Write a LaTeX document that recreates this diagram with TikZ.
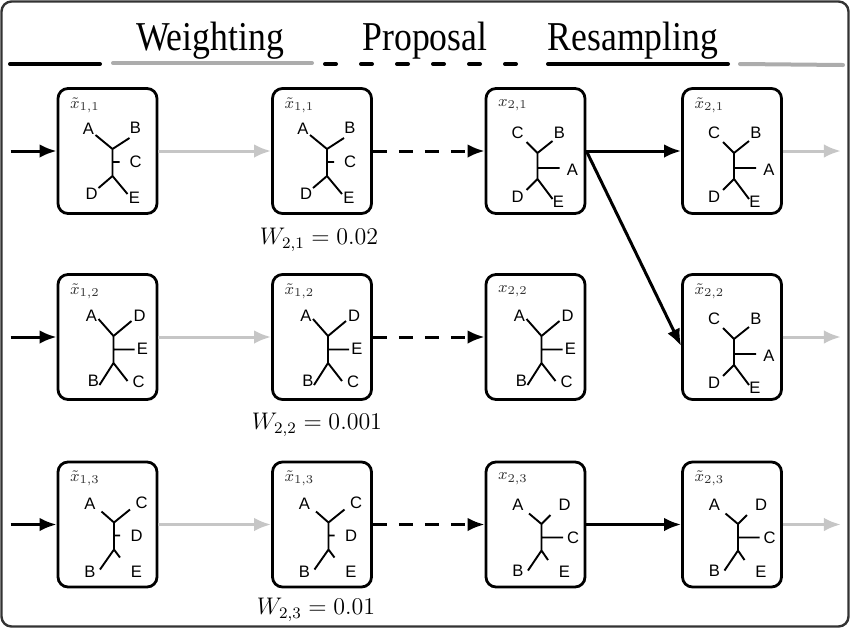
\documentclass[tikz,border=0pt]{standalone}
\usepackage{fontspec}
\usepackage{graphicx}
\setmainfont{Liberation Serif}
\newfontfamily\treefont{Liberation Sans}
\usetikzlibrary{arrows.meta}
\newcommand{\narrowtitle}[1]{\scalebox{0.87}[1]{#1}}
\tikzset{
  particle/.style={draw, rounded corners=5pt, line width=1.4pt, minimum width=49.5pt, minimum height=62.5pt, inner sep=0pt},
  plab/.style={anchor=west, inner sep=0pt, font=\fontsize{8}{9}\selectfont, text=black!80},
  tlab/.style={inner sep=0pt, font=\treefont\fontsize{8.3}{9}\selectfont},
  treeline/.style={line width=0.95pt},
  title/.style={anchor=base, inner sep=0pt, font=\fontsize{20.5}{22}\selectfont},
  wt/.style={inner sep=0pt, font=\fontsize{12}{14}\selectfont},
  hdr/.style={line width=2pt, line cap=round},
  blackarrow/.style={line width=1.5pt, -{Latex[length=8.5pt,width=6.8pt]}},
  grayarrow/.style={blackarrow, draw=gray!45},
  dasharrow/.style={blackarrow, dash pattern=on 7pt off 6pt},
  frame/.style={draw=black!80, line width=1.2pt, rounded corners=5pt},
  treeTone/.pic={
    \coordinate (-n1) at (5,-2); \coordinate (-n2) at (5,25); \coordinate (-m) at (5,11);
    \coordinate (-a) at (-12,-16); \coordinate (-b) at (22,-13);
    \coordinate (-c) at (12,11);
    \coordinate (-d) at (-9,37); \coordinate (-e) at (20,43);
    \draw[treeline] (-a) -- (-n1) -- (-b) (-n1) -- (-n2) (-m) -- (-c) (-d) -- (-n2) -- (-e);
    \node[tlab] (-A) at (-19,-22) {A};
    \node[tlab] (-B) at (28,-23) {B};
    \node[tlab] (-C) at (28,11) {C};
    \node[tlab] (-D) at (-16,43) {D};
    \node[tlab] (-E) at (27,47) {E};
  },
  treeTtwo/.pic={
    \coordinate (-n1) at (2,2); \coordinate (-n2) at (2,28); \coordinate (-m) at (2,17);
    \coordinate (-c) at (-9,-9); \coordinate (-b) at (17,-10);
    \coordinate (-a) at (24,17);
    \coordinate (-d) at (-9,39); \coordinate (-e) at (17,48);
    \draw[treeline] (-c) -- (-n1) -- (-b) (-n1) -- (-n2) (-m) -- (-a) (-d) -- (-n2) -- (-e);
    \node[tlab] (-C) at (-18,-18) {C};
    \node[tlab] (-B) at (24,-18) {B};
    \node[tlab] (-A) at (37,19) {A};
    \node[tlab] (-D) at (-18,46) {D};
    \node[tlab] (-E) at (23,51) {E};
  },
  treeTthree/.pic={
    \coordinate (-n1) at (6,-1); \coordinate (-n2) at (6,26); \coordinate (-m) at (6,12.5);
    \coordinate (-a) at (-9,-18); \coordinate (-d) at (24,-16);
    \coordinate (-e) at (27,12.5);
    \coordinate (-b) at (-8,48); \coordinate (-c) at (20,44);
    \draw[treeline] (-a) -- (-n1) -- (-d) (-n1) -- (-n2) (-m) -- (-e) (-b) -- (-n2) -- (-c);
    \node[tlab] (-A) at (-16,-21) {A};
    \node[tlab] (-D) at (32,-21) {D};
    \node[tlab] (-E) at (35,12) {E};
    \node[tlab] (-B) at (-14,44) {B};
    \node[tlab] (-C) at (31,45) {C};
  },
  treeTfour/.pic={
    \coordinate (-n1) at (6.5,-2); \coordinate (-n2) at (6.5,25); \coordinate (-m) at (6.5,11);
    \coordinate (-a) at (-6,-13); \coordinate (-c) at (22.5,-15);
    \coordinate (-d) at (12.5,11);
    \coordinate (-b) at (-7.5,45); \coordinate (-e) at (12.5,33);
    \draw[treeline] (-a) -- (-n1) -- (-c) (-n1) -- (-n2) (-m) -- (-d) (-b) -- (-n2) -- (-e);
    \node[tlab] (-A) at (-17.5,-21) {A};
    \node[tlab] (-C) at (34,-22) {C};
    \node[tlab] (-D) at (29,11) {D};
    \node[tlab] (-B) at (-17.5,47) {B};
    \node[tlab] (-E) at (29,47) {E};
  },
  treeTfive/.pic={
    \coordinate (-n1) at (6,-0.5); \coordinate (-n2) at (6,26); \coordinate (-m) at (6,13);
    \coordinate (-a) at (-6.5,-11); \coordinate (-d) at (15,-9.5);
    \coordinate (-c) at (27.5,13);
    \coordinate (-b) at (-7.5,46); \coordinate (-e) at (12.5,35.5);
    \draw[treeline] (-a) -- (-n1) -- (-d) (-n1) -- (-n2) (-m) -- (-c) (-b) -- (-n2) -- (-e);
    \node[tlab] (-A) at (-17.5,-20) {A};
    \node[tlab] (-D) at (29,-20) {D};
    \node[tlab] (-C) at (37.5,13) {C};
    \node[tlab] (-B) at (-17.5,46) {B};
    \node[tlab] (-E) at (29,47) {E};
  }
}
\begin{document}
\begin{tikzpicture}[x=0.5pt,y=-0.5pt]
\useasboundingbox (0,0) rectangle (850,628);
\draw[frame] (1.5,1.5) rectangle (848.5,626.5);

% titles
\node[title] (tw) at (210,50) {\narrowtitle{Weighting}};
\node[title] (tp) at (425,50) {\narrowtitle{Proposal}};
\node[title] (tr) at (633,50) {\narrowtitle{Resampling}};

% header legend lines
\coordinate (h1a) at (10,64); \coordinate (h1b) at (100,64);
\coordinate (h2a) at (113,63); \coordinate (h2b) at (312,63);
\coordinate (h3a) at (325,64); \coordinate (h3b) at (530,64);
\coordinate (h4a) at (548,64); \coordinate (h4b) at (728,64);
\coordinate (h5a) at (740,64); \coordinate (h5b) at (843,65);
\draw[hdr] (h1a) -- (h1b);
\draw[hdr, draw=gray!65] (h2a) -- (h2b);
\draw[hdr, dash pattern=on 5.5pt off 12.5pt] (h3a) -- (h3b);
\draw[hdr] (h4a) -- (h4b);
\draw[hdr, draw=gray!65] (h5a) -- (h5b);

% boxes
\foreach \c/\x in {1/107.5, 2/322, 3/535.5, 4/732}{
  \foreach \r/\y in {1/151, 2/337, 3/524.5}{
    \node[particle] (b\r\c) at (\x,\y) {};
  }
}

% box labels
\node[plab] (l11) at ([shift={(13,18)}]b11.north west) {$\tilde{x}_{1,1}$};
\node[plab] (l12) at ([shift={(13,18)}]b12.north west) {$\tilde{x}_{1,1}$};
\node[plab] (l13) at ([shift={(13,18)}]b13.north west) {$x_{2,1}$};
\node[plab] (l14) at ([shift={(13,18)}]b14.north west) {$\tilde{x}_{2,1}$};
\node[plab] (l21) at ([shift={(13,18)}]b21.north west) {$\tilde{x}_{1,2}$};
\node[plab] (l22) at ([shift={(13,18)}]b22.north west) {$\tilde{x}_{1,2}$};
\node[plab] (l23) at ([shift={(13,18)}]b23.north west) {$x_{2,2}$};
\node[plab] (l24) at ([shift={(13,18)}]b24.north west) {$\tilde{x}_{2,2}$};
\node[plab] (l31) at ([shift={(13,18)}]b31.north west) {$\tilde{x}_{1,3}$};
\node[plab] (l32) at ([shift={(13,18)}]b32.north west) {$\tilde{x}_{1,3}$};
\node[plab] (l33) at ([shift={(13,18)}]b33.north west) {$x_{2,3}$};
\node[plab] (l34) at ([shift={(13,18)}]b34.north west) {$\tilde{x}_{2,3}$};

% trees
\pic (t11) at (b11) {treeTone};
\pic (t12) at (b12) {treeTone};
\pic (t13) at (b13) {treeTtwo};
\pic (t14) at (b14) {treeTtwo};
\pic (t21) at (b21) {treeTthree};
\pic (t22) at (b22) {treeTthree};
\pic (t23) at (b23) {treeTthree};
\pic (t24) at (b24) {treeTtwo};
\pic (t31) at (b31) {treeTfour};
\pic (t32) at (b32) {treeTfour};
\pic (t33) at (b33) {treeTfive};
\pic (t34) at (b34) {treeTfive};

% weights
\node[wt] (w1) at (319,240) {$W_{2,1} = 0.02$};
\node[wt] (w2) at (317,425) {$W_{2,2} = 0.001$};
\node[wt] (w3) at (316,610) {$W_{2,3} = 0.01$};

% input / output coordinates
\foreach \r in {1,2,3}{
  \coordinate (in\r) at ([shift={(-46,0)}]b\r1.west);
  \coordinate (out\r) at ([shift={(58,0)}]b\r4.east);
}

% arrows
\foreach \r in {1,2,3}{
  \draw[blackarrow] (in\r) -- (b\r1.west);
  \draw[grayarrow] (b\r1.east) -- (b\r2.west);
  \draw[dasharrow] (b\r2.east) -- (b\r3.west);
  \draw[grayarrow] (b\r4.east) -- (out\r);
}
\draw[blackarrow] (b13.east) -- (b14.west);
\draw[blackarrow] (b13.east) -- (b24.190);
\draw[blackarrow] (b33.east) -- (b34.west);
\end{tikzpicture}
\end{document}
